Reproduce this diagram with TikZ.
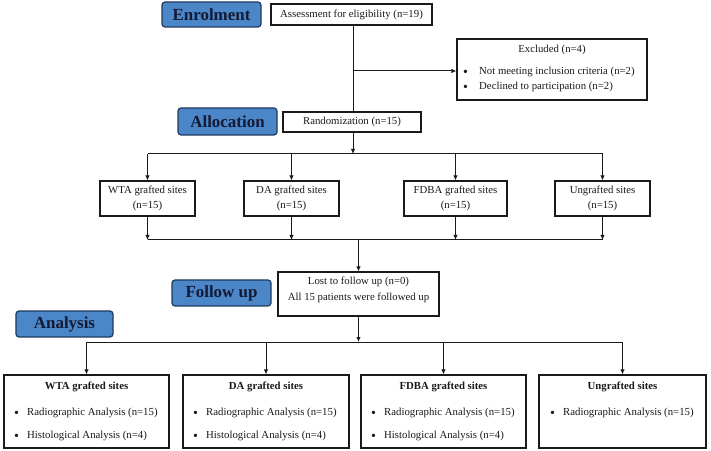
\documentclass[tikz,border=0pt]{standalone}
\usepackage{fontspec}
\setmainfont{Liberation Serif}
\usetikzlibrary{arrows.meta}
\definecolor{bluefill}{HTML}{4A86C8}
\definecolor{blueedge}{HTML}{1F3A60}
\definecolor{navytext}{HTML}{141A33}
\definecolor{inkc}{HTML}{1A1A1A}
\newcommand{\mybul}[1]{\makebox[#1][l]{\raisebox{-1.6bp}{\fontsize{14}{14}\selectfont •}}}
\begin{document}
\begin{tikzpicture}[x=1bp,y=-1bp,
 stage/.style={draw=blueedge, line width=1.2bp, fill=bluefill, rounded corners=3bp, text=navytext, font=\fontsize{17}{19}\selectfont\bfseries, inner sep=0pt},
 box/.style={draw=inkc, line width=1.1bp, fill=white, inner sep=0pt, text=inkc, font=\fontsize{10.8}{15}\selectfont, align=center},
 txt/.style={inner sep=0pt, text=inkc, font=\fontsize{10.8}{13}\selectfont},
 btxt/.style={txt, font=\fontsize{10.8}{13}\selectfont\bfseries},
 conn/.style={line width=1bp, draw=inkc},
 arr/.style={conn, -{Latex[length=5bp,width=4.5bp]}}
]
\useasboundingbox (0,0) rectangle (711,451);

% stage labels
\node[stage, minimum width=99bp, minimum height=25bp] (enrol) at (211.5,14.5) {Enrolment};
\node[stage, minimum width=99bp, minimum height=27bp] (alloc) at (227.5,121.5) {Allocation};
\node[stage, minimum width=99bp, minimum height=26bp] (follow) at (221.5,293) {Follow up};
\node[stage, minimum width=97bp, minimum height=26bp] (analysis) at (64.5,324) {Analysis};

% top boxes
\node[box, minimum width=161bp, minimum height=21bp] (assess) at (351.5,14.5) {Assessment for eligibility (n=19)};
\node[box, minimum width=190bp, minimum height=61bp] (excl) at (552,69.5) {};
\node[txt] (exclT) at (552,50) {Excluded (n=4)};
\node[txt, anchor=west] (exclA) at (463,72) {\mybul{16bp}Not meeting inclusion criteria (n=2)};
\node[txt, anchor=west] (exclB) at (463,87) {\mybul{16bp}Declined to participation (n=2)};
\node[box, minimum width=138bp, minimum height=20bp] (rand) at (352,122) {Randomization (n=15)};

% allocation boxes
\node[box, minimum width=95bp, minimum height=35bp] (g1) at (147.5,198.5) {WTA grafted sites\\(n=15)};
\node[box, minimum width=95bp, minimum height=35bp] (g2) at (291.5,198.5) {DA grafted sites\\(n=15)};
\node[box, minimum width=103bp, minimum height=35bp] (g3) at (455.5,198.5) {FDBA grafted sites\\(n=15)};
\node[box, minimum width=95bp, minimum height=35bp] (g4) at (602.5,198.5) {Ungrafted sites\\(n=15)};

% follow up box
\node[box, minimum width=161bp, minimum height=44bp] (lost) at (358.5,294) {};
\node[txt] (lostA) at (358.5,282) {Lost to follow up (n=0)};
\node[txt] (lostB) at (358.5,298) {All 15 patients were followed up};

% analysis boxes
\node[box, minimum width=165bp, minimum height=73bp] (a1) at (86.5,411.5) {};
\node[box, minimum width=166bp, minimum height=73bp] (a2) at (266,411.5) {};
\node[box, minimum width=165bp, minimum height=73bp] (a3) at (443.5,411.5) {};
\node[box, minimum width=167bp, minimum height=73bp] (a4) at (622.5,411.5) {};

\node[btxt] (a1T) at (86.5,387) {WTA grafted sites};
\node[txt, anchor=west] (a1A) at (14,413) {\mybul{13bp}Radiographic Analysis (n=15)};
\node[txt, anchor=west] (a1B) at (14,436) {\mybul{13bp}Histological Analysis (n=4)};

\node[btxt] (a2T) at (266,387) {DA grafted sites};
\node[txt, anchor=west] (a2A) at (193,413) {\mybul{13bp}Radiographic Analysis (n=15)};
\node[txt, anchor=west] (a2B) at (193,436) {\mybul{13bp}Histological Analysis (n=4)};

\node[btxt] (a3T) at (443.5,387) {FDBA grafted sites};
\node[txt, anchor=west] (a3A) at (371,413) {\mybul{13bp}Radiographic Analysis (n=15)};
\node[txt, anchor=west] (a3B) at (371,436) {\mybul{13bp}Histological Analysis (n=4)};

\node[btxt] (a4T) at (622.5,387) {Ungrafted sites};
\node[txt, anchor=west] (a4A) at (550,413) {\mybul{13bp}Radiographic Analysis (n=15)};

% junction coordinates
\coordinate (jx) at (353,71);
\coordinate (j1) at (353,154);
\coordinate (j1L) at (147.5,154);
\coordinate (j1R) at (602.5,154);
\coordinate (j2) at (358.5,240);
\coordinate (j2L) at (147.5,240);
\coordinate (j2R) at (602.5,240);
\coordinate (j3) at (358.5,342);
\coordinate (j3L) at (86.5,342);
\coordinate (j3R) at (622.5,342);

% connectors
\draw[conn] (assess.south -| jx) -- (rand.north -| jx);
\draw[arr] (jx) -- (excl.west |- jx);
\draw[arr] (rand.south -| j1) -- (j1);
\draw[conn] (j1L) -- (j1R);
\draw[arr] (g1.north |- j1) -- (g1.north);
\draw[arr] (g2.north |- j1) -- (g2.north);
\draw[arr] (g3.north |- j1) -- (g3.north);
\draw[arr] (g4.north |- j1) -- (g4.north);
\draw[arr] (g1.south) -- (g1.south |- j2);
\draw[arr] (g2.south) -- (g2.south |- j2);
\draw[arr] (g3.south) -- (g3.south |- j2);
\draw[arr] (g4.south) -- (g4.south |- j2);
\draw[conn] (j2L) -- (j2R);
\draw[arr] (j2) -- (lost.north);
\draw[arr] (lost.south) -- (j3);
\draw[conn] (j3L) -- (j3R);
\draw[arr] (a1.north |- j3) -- (a1.north);
\draw[arr] (a2.north |- j3) -- (a2.north);
\draw[arr] (a3.north |- j3) -- (a3.north);
\draw[arr] (a4.north |- j3) -- (a4.north);
\end{tikzpicture}
\end{document}
